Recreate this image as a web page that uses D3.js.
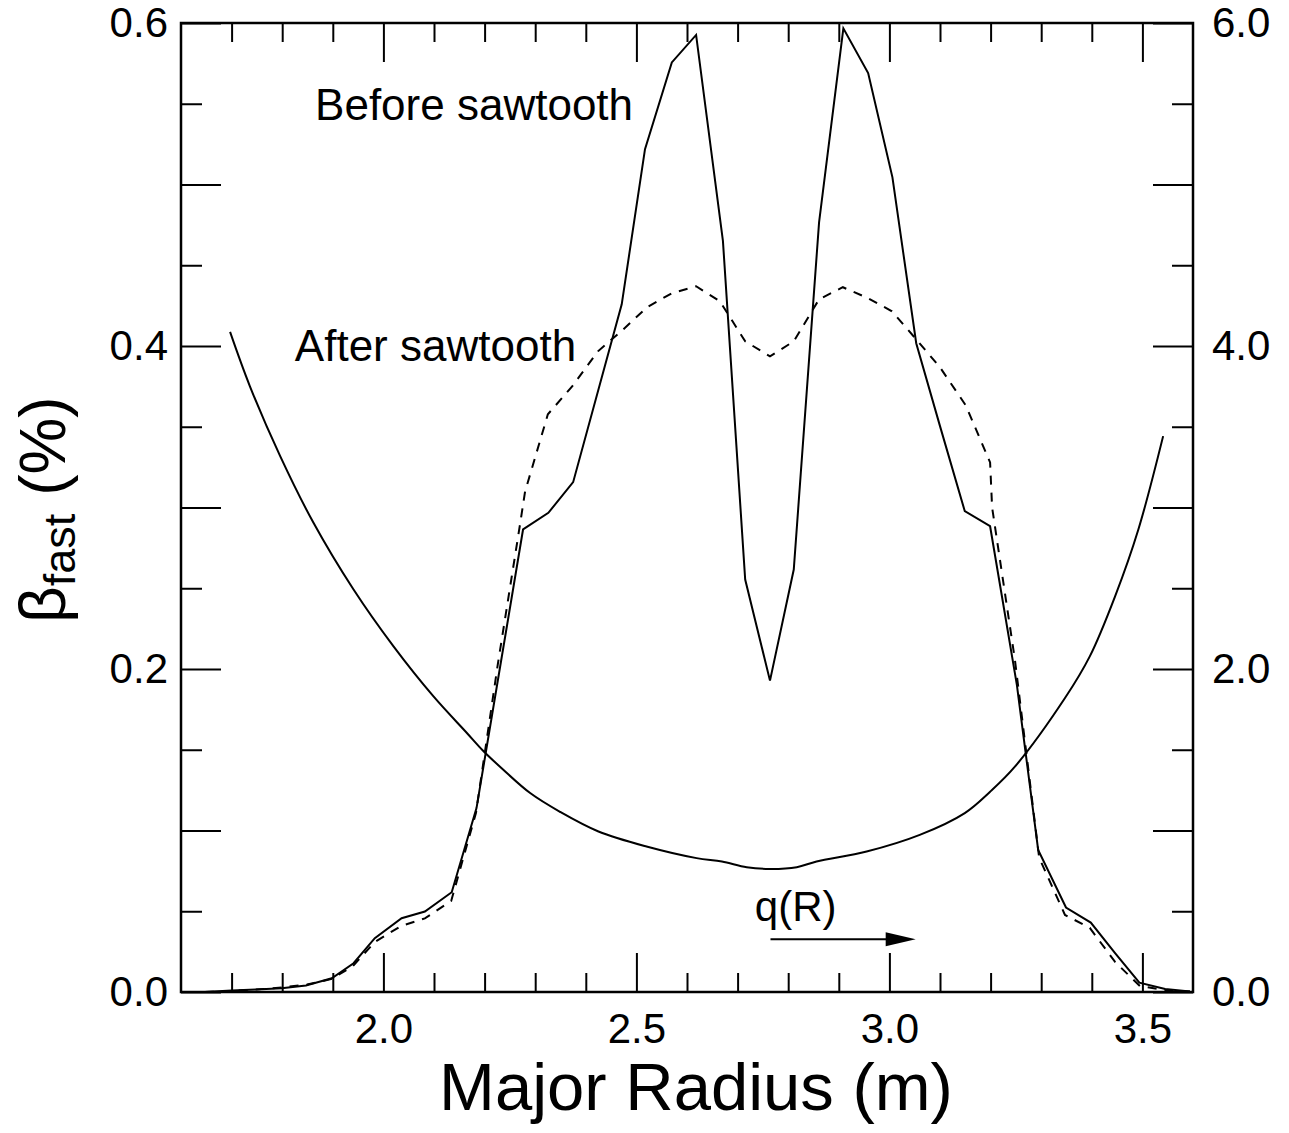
<!DOCTYPE html>
<html>
<head>
<meta charset="utf-8">
<script src="https://cdn.jsdelivr.net/npm/d3@7/dist/d3.min.js"></script>
<style>
  html, body { margin: 0; padding: 0; background: #fff; }
  svg { display: block; font-family: "Liberation Sans", Arial, Helvetica, sans-serif; }
</style>
</head>
<body>
<svg id="chart" width="1289" height="1133"></svg>
<script>
// Fast-ion beta profiles across the major radius, before and after a sawtooth crash,
// with the safety factor q(R) on the right-hand axis.

const rBefore = [1.647, 1.700, 1.748, 1.799, 1.847, 1.898, 1.941, 1.983, 2.036, 2.082,
                 2.135, 2.184, 2.276, 2.326, 2.375, 2.471, 2.517, 2.570, 2.618, 2.671,
                 2.715, 2.764, 2.811, 2.861, 2.909, 2.958, 3.006, 3.053, 3.100, 3.149,
                 3.199, 3.252, 3.294, 3.349, 3.398, 3.446, 3.494, 3.545, 3.594];
const betaBefore = [0.000, 0.001, 0.0015, 0.0023, 0.004, 0.0085, 0.0178, 0.0333, 0.0457, 0.0498,
                    0.0618, 0.1139, 0.2864, 0.2967, 0.3157, 0.4258, 0.5219, 0.5756, 0.5926, 0.4651,
                    0.2554, 0.1928, 0.2616, 0.4765, 0.5967, 0.569, 0.5044, 0.4017, 0.3504, 0.2977,
                    0.2884, 0.190, 0.088, 0.0523, 0.043, 0.024, 0.0058, 0.0019, 0.0003];

const rAfter = [1.647, 1.699, 1.748, 1.800, 1.849, 1.898, 1.940, 1.983, 2.035, 2.082,
                2.134, 2.183, 2.226, 2.270, 2.280, 2.325, 2.373, 2.424, 2.474, 2.521,
                2.570, 2.618, 2.665, 2.715, 2.764, 2.811, 2.861, 2.908, 2.958, 3.005,
                3.053, 3.100, 3.151, 3.199, 3.203, 3.248, 3.296, 3.347, 3.396, 3.446,
                3.495, 3.545, 3.594];
const betaAfter = [0.000, 0.0006, 0.0015, 0.0028, 0.0046, 0.0081, 0.0161, 0.0310, 0.0409, 0.0456,
                   0.0564, 0.1110, 0.2027, 0.2895, 0.3099, 0.3577, 0.3750, 0.3967, 0.4103, 0.4240,
                   0.4327, 0.4370, 0.4277, 0.4029, 0.3936, 0.4029, 0.4289, 0.4364, 0.4296, 0.4215,
                   0.4041, 0.3868, 0.3632, 0.3279, 0.3000, 0.2058, 0.0831, 0.0477, 0.0397, 0.0186,
                   0.0037, 0.0012, 0.0003];

const rQ = [1.697, 1.736, 1.796, 1.861, 1.941, 2.020, 2.099, 2.165, 2.197, 2.237,
            2.290, 2.349, 2.425, 2.520, 2.619, 2.669, 2.718, 2.764, 2.817, 2.856,
            2.955, 3.060, 3.149, 3.199, 3.248, 3.347, 3.396, 3.446, 3.492, 3.541];
const qValues = [4.087, 3.752, 3.318, 2.910, 2.492, 2.140, 1.830, 1.604, 1.494, 1.376,
                 1.232, 1.116, 0.994, 0.901, 0.829, 0.808, 0.773, 0.762, 0.773, 0.808,
                 0.870, 0.973, 1.108, 1.240, 1.395, 1.820, 2.078, 2.450, 2.864, 3.442];

const xTickValues = [1.7, 1.8, 1.9, 2.0, 2.1, 2.2, 2.3, 2.4, 2.5, 2.6, 2.7, 2.8, 2.9,
                     3.0, 3.1, 3.2, 3.3, 3.4, 3.5];
const xTickLabels = ["2.0", "2.5", "3.0", "3.5"];
const betaTickValues = [0, 0.05, 0.1, 0.15, 0.2, 0.25, 0.3, 0.35, 0.4, 0.45, 0.5, 0.55, 0.6];
const betaTickLabels = ["0.0", "0.2", "0.4", "0.6"];
const qTickLabels = ["0.0", "2.0", "4.0", "6.0"];

// Annotations (data units)
const labelBefore = { text: "Before sawtooth", r: 1.865, beta: 0.540 };
const labelAfter = { text: "After sawtooth", r: 1.825, beta: 0.391 };
const labelQ = { text: "q(R)", r: 2.734, beta: 0.044 };
const arrowQ = { r0: 2.765, r1: 3.052, beta: 0.0327 };

const svg = d3.select("#chart");
const W = 1289, H = 1133;
svg.append("rect").attr("width", W).attr("height", H).attr("fill", "#fff");

const plotLeft = 181, plotRight = 1193, plotTop = 23, plotBottom = 992;

const x = d3.scaleLinear().domain([1.6, 3.6]).range([plotLeft, plotRight]);
const y = d3.scaleLinear().domain([0, 0.6]).range([plotBottom, plotTop]);
const yq = d3.scaleLinear().domain([0, 6]).range([plotBottom, plotTop]);

const fmt1 = d3.format(".1f");
const onStep = (v, step) => Math.abs(v / step - Math.round(v / step)) < 1e-6;

const tickFont = 42;

// Bottom axis
const gB = svg.append("g").attr("transform", `translate(0,${plotBottom})`)
  .call(d3.axisBottom(x).tickValues(xTickValues).tickSize(-19).tickPadding(21)
    .tickFormat(v => xTickLabels.includes(fmt1(v)) && onStep(v, 0.5) ? fmt1(v) : ""));
gB.selectAll(".tick line").filter(d => onStep(d, 0.5)).attr("y2", -39);

// Top axis
const gT = svg.append("g").attr("transform", `translate(0,${plotTop})`)
  .call(d3.axisTop(x).tickValues(xTickValues).tickSize(-19).tickFormat(""));
gT.selectAll(".tick line").filter(d => onStep(d, 0.5)).attr("y2", 39);

// Left axis
const gL = svg.append("g").attr("transform", `translate(${plotLeft},0)`)
  .call(d3.axisLeft(y).tickValues(betaTickValues).tickSize(-21).tickPadding(13)
    .tickFormat(v => onStep(v, 0.2) && betaTickLabels.includes(fmt1(v)) ? fmt1(v) : ""));
gL.selectAll(".tick line").filter(d => onStep(d, 0.1)).attr("x2", 40);

// Right axis (q)
const qTickValues = betaTickValues.map(v => +(v * 10).toFixed(2));
const gR = svg.append("g").attr("transform", `translate(${plotRight},0)`)
  .call(d3.axisRight(yq).tickValues(qTickValues).tickSize(-21).tickPadding(19)
    .tickFormat(v => onStep(v, 2) && qTickLabels.includes(fmt1(v)) ? fmt1(v) : ""));
gR.selectAll(".tick line").filter(d => onStep(d, 1)).attr("x2", -40);

svg.selectAll(".domain").remove();
svg.selectAll(".tick line").attr("stroke", "#000").attr("stroke-width", 2);
svg.selectAll(".tick text")
  .attr("fill", "#000")
  .attr("font-size", tickFont)
  .attr("font-family", '"Liberation Sans", Arial, sans-serif');

// Frame
svg.append("rect")
  .attr("x", plotLeft).attr("y", plotTop)
  .attr("width", plotRight - plotLeft).attr("height", plotBottom - plotTop)
  .attr("fill", "none").attr("stroke", "#000").attr("stroke-width", 2.5);

// Curves
const lineBeta = d3.line().x(d => x(d[0])).y(d => y(d[1]));
const lineQ = d3.line().x(d => x(d[0])).y(d => yq(d[1])).curve(d3.curveCatmullRom.alpha(0.5));

svg.append("path")
  .datum(d3.zip(rAfter, betaAfter))
  .attr("d", lineBeta)
  .attr("fill", "none").attr("stroke", "#000").attr("stroke-width", 2)
  .attr("stroke-dasharray", "9,8");

svg.append("path")
  .datum(d3.zip(rBefore, betaBefore))
  .attr("d", lineBeta)
  .attr("fill", "none").attr("stroke", "#000").attr("stroke-width", 2)
  .attr("stroke-linejoin", "miter");

svg.append("path")
  .datum(d3.zip(rQ, qValues))
  .attr("d", lineQ)
  .attr("fill", "none").attr("stroke", "#000").attr("stroke-width", 2);

// Annotations
const annFont = 44;
[labelBefore, labelAfter].forEach(l => {
  svg.append("text")
    .attr("x", x(l.r)).attr("y", y(l.beta))
    .attr("font-size", annFont).attr("fill", "#000")
    .text(l.text);
});
svg.append("text")
  .attr("x", x(labelQ.r)).attr("y", y(labelQ.beta))
  .attr("font-size", 42).attr("fill", "#000")
  .text(labelQ.text);

const ay = y(arrowQ.beta);
svg.append("line")
  .attr("x1", x(arrowQ.r0)).attr("x2", x(arrowQ.r1) - 28)
  .attr("y1", ay).attr("y2", ay)
  .attr("stroke", "#000").attr("stroke-width", 2);
const tipX = x(arrowQ.r1);
svg.append("path")
  .attr("d", `M${tipX},${ay} L${tipX - 30},${ay - 7} L${tipX - 30},${ay + 7} Z`)
  .attr("fill", "#000");

// Axis titles
svg.append("text")
  .attr("x", (plotLeft + plotRight) / 2 + 9).attr("y", 1110)
  .attr("text-anchor", "middle")
  .attr("font-size", 67).attr("fill", "#000")
  .text("Major Radius (m)");

const yTitle = svg.append("text")
  .attr("transform", "translate(65,623) rotate(-90)")
  .attr("text-anchor", "start")
  .attr("font-size", 64).attr("fill", "#000");
yTitle.append("tspan").text("β");
yTitle.append("tspan").attr("font-size", 45).attr("dy", 10).text("fast");
yTitle.append("tspan").attr("dy", -10).text(" (%)");
</script>
</body>
</html>
